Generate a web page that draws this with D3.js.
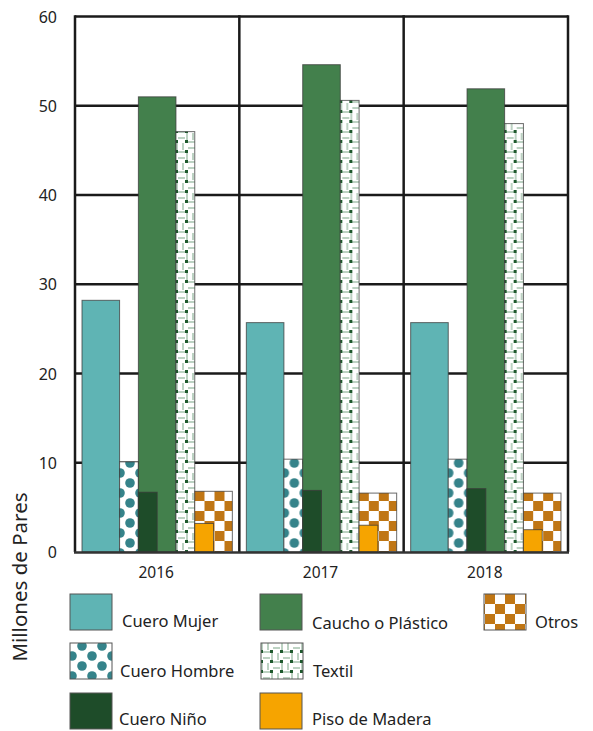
<!DOCTYPE html>
<html>
<head>
<meta charset="utf-8">
<script src="https://cdn.jsdelivr.net/npm/d3@7/dist/d3.min.js"></script>
<style>
body{margin:0;background:#fff;}
svg{display:block;font-family:"Noto Sans","Open Sans",sans-serif;}
</style>
</head>
<body>
<svg id="c" width="593" height="731"></svg>
<script>
const years = ["2016","2017","2018"];
const yTicks = [0,10,20,30,40,50,60];
const cueroMujer   = [28.2, 25.7, 25.7];
const cueroHombre  = [10.1, 10.4, 10.4];
const caucho       = [51.0, 54.6, 51.9];
const cueroNino    = [6.7, 6.9, 7.1];
const textil       = [47.1, 50.6, 48.0];
const otros        = [6.8, 6.6, 6.6];
const pisoMadera   = [3.2, 3.0, 2.5];
const seriesNames = ["Cuero Mujer","Cuero Hombre","Cuero Niño","Caucho o Plástico","Textil","Piso de Madera","Otros"];

const svg = d3.select("#c");
const defs = svg.append("defs");

// dots pattern
function dotsPattern(id, px, py){
  const p = defs.append("pattern").attr("id",id).attr("patternUnits","userSpaceOnUse")
    .attr("width",20).attr("height",20).attr("x",px).attr("y",py);
  p.append("rect").attr("width",20).attr("height",20).attr("fill","#fff");
  [[0,0],[20,0],[0,20],[20,20],[10,10]].forEach(([cx,cy])=>p.append("circle").attr("cx",cx).attr("cy",cy).attr("r",4.8).attr("fill","#35838a"));
}
dotsPattern("dots",15,3);
dotsPattern("dotsL",2,6);

// checker pattern
function checkerPattern(id, px, py){
  const p = defs.append("pattern").attr("id",id).attr("patternUnits","userSpaceOnUse")
    .attr("width",20).attr("height",20).attr("x",px).attr("y",py);
  p.append("rect").attr("width",20).attr("height",20).attr("fill","#fff");
  p.append("rect").attr("x",0).attr("y",0).attr("width",10).attr("height",10).attr("fill","#c07614");
  p.append("rect").attr("x",10).attr("y",10).attr("width",10).attr("height",10).attr("fill","#c07614");
}
checkerPattern("checker",-0.5,11);
checkerPattern("checkerL",5,14);

// weave pattern
const pW = defs.append("pattern").attr("id","weave").attr("patternUnits","userSpaceOnUse")
  .attr("width",20).attr("height",20).attr("x",0).attr("y",0);
pW.append("rect").attr("width",20).attr("height",20).attr("fill","#fff");
const wl = "#8fb49a";
[[2,3,2,10],[8,3,8,10],[13,2,20,2],[13,8,20,8],[3,12,10,12],[3,18,10,18],[12,13,12,20],[18,13,18,20]].forEach(([a,b,c,d])=>
  pW.append("line").attr("x1",a).attr("y1",b).attr("x2",c).attr("y2",d).attr("stroke",wl).attr("stroke-width",1.2));
[[0,0],[10,0],[0,10],[10,10]].forEach(([x,y])=>pW.append("rect").attr("x",x).attr("y",y).attr("width",3).attr("height",3).attr("fill","#1f5a2e"));

const x = d3.scaleBand().domain(years).range([75,568]).padding(0);
const unit = d3.scaleLinear().domain([0,8]).range([7, x.bandwidth()-7]);
const y = d3.scaleLinear().domain([0,60]).range([552,16.5]);

// gridlines
const g = svg.append("g");
g.selectAll("line.h").data(yTicks.filter(d=>d>0)).join("line")
  .attr("x1",75).attr("x2",568).attr("y1",d=>y(d)).attr("y2",d=>y(d))
  .attr("stroke","#1a1a1a").attr("stroke-width",2.5);
g.selectAll("line.v").data([...years.map(d=>x(d)), x(years[2])+x.bandwidth()]).join("line")
  .attr("x1",d=>d).attr("x2",d=>d).attr("y1",y(60)-1.2).attr("y2",y(0))
  .attr("stroke","#1a1a1a").attr("stroke-width",2.5);

const series = [
  {vals:cueroMujer, fill:"#5fb4b4", u0:0, u1:2},
  {vals:cueroHombre, fill:"url(#dots)", u0:2, u1:3},
  {vals:caucho, fill:"#43804c", u0:3, u1:5},
  {vals:textil, fill:"url(#weave)", u0:5, u1:6},
  {vals:otros, fill:"url(#checker)", u0:6, u1:8},
  {vals:cueroNino, fill:"#1e4c29", u0:3, u1:4},
  {vals:pisoMadera, fill:"#f6a400", u0:6, u1:7}
];
const groups = svg.append("g").selectAll("g").data(years).join("g")
  .attr("transform",d=>`translate(${x(d)},0)`);
groups.each(function(yr,i){
  const gg = d3.select(this);
  series.forEach(s=>{
    const v = s.vals[i];
    gg.append("rect")
      .attr("x",unit(s.u0))
      .attr("width",unit(s.u1)-unit(s.u0))
      .attr("y",y(v))
      .attr("height",y(0)-y(v))
      .attr("fill",s.fill)
      .attr("stroke","#3a3a3a").attr("stroke-opacity",0.75).attr("stroke-width",1);
  });
});

// bottom axis line
svg.append("line").attr("x1",74).attr("x2",569).attr("y1",y(0)+0.5).attr("y2",y(0)+0.5)
  .attr("stroke","#333").attr("stroke-width",2.5);

// y labels
svg.append("g").selectAll("text").data(yTicks).join("text")
  .attr("x",57).attr("y",d=>y(d)+6).attr("text-anchor","end")
  .attr("font-size",16).attr("fill","#222").text(d=>d);

// x labels
svg.append("g").selectAll("text").data(years).join("text")
  .attr("x",d=>x(d)+x.bandwidth()/2-1).attr("y",578).attr("text-anchor","middle")
  .attr("font-size",15.5).attr("fill","#222").text(d=>d);

// y title
svg.append("text").attr("transform","translate(27,577) rotate(-90)")
  .attr("text-anchor","middle").attr("font-size",20.5).attr("fill","#222").text("Millones de Pares");

// legend
const legend = [
  {name:seriesNames[0], fill:"#5fb4b4", sx:70, sy:594, tx:122, ty:627},
  {name:seriesNames[1], fill:"url(#dotsL)", sx:70, sy:643, tx:120, ty:677},
  {name:seriesNames[2], fill:"#1e4c29", sx:70, sy:693, tx:119, ty:725},
  {name:seriesNames[3], fill:"#43804c", sx:260, sy:594, tx:312, ty:629},
  {name:seriesNames[4], fill:"url(#weave)", sx:261, sy:643, tx:313, ty:677},
  {name:seriesNames[5], fill:"#f6a400", sx:260, sy:693, tx:312, ty:725},
  {name:seriesNames[6], fill:"url(#checkerL)", sx:484, sy:594, tx:535, ty:628}
];
const lg = svg.append("g");
lg.selectAll("rect").data(legend).join("rect")
  .attr("x",d=>d.sx).attr("y",d=>d.sy).attr("width",42).attr("height",36)
  .attr("fill",d=>d.fill).attr("stroke","#555").attr("stroke-width",1);
lg.selectAll("text").data(legend).join("text")
  .attr("x",d=>d.tx).attr("y",d=>d.ty).attr("font-size",16.5).attr("fill","#222").text(d=>d.name);
</script>
</body>
</html>
